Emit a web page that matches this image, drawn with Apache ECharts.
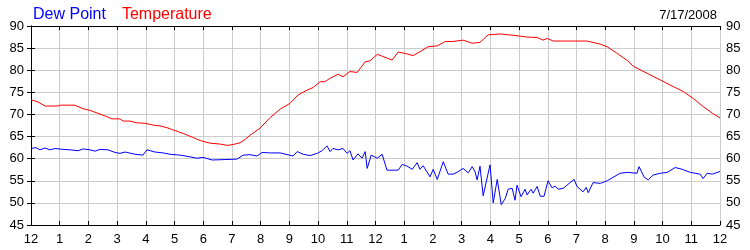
<!DOCTYPE html>
<html>
<head>
<meta charset="utf-8">
<script src="https://cdn.jsdelivr.net/npm/echarts@6/dist/echarts.min.js"></script>
<style>html,body{margin:0;padding:0;background:#fff;}#c{width:750px;height:250px;}</style>
</head>
<body>
<div id="c"></div>
<script>
const dateLabel = '7/17/2008';
const seriesNames = ['Dew Point', 'Temperature'];
const yTicks = [45, 50, 55, 60, 65, 70, 75, 80, 85, 90];
const xTickLabels = ['12','1','2','3','4','5','6','7','8','9','10','11','12','1','2','3','4','5','6','7','8','9','10','11','12'];

const tempHours = [0,0.17,0.31,0.49,0.94,1.01,1.53,1.81,2.06,2.40,2.68,2.82,3.10,3.21,3.45,3.69,3.97,4.25,4.49,4.74,4.95,5.30,5.64,5.89,6.24,6.59,6.83,7.04,7.28,7.45,7.63,7.98,8.33,8.68,9.02,9.30,9.62,9.83,10.07,10.24,10.42,10.70,10.87,11.11,11.36,11.64,11.81,12.06,12.26,12.58,12.79,13.03,13.31,13.55,13.83,14.15,14.43,14.70,15.05,15.37,15.64,15.92,16.34,16.79,17.28,17.63,17.84,17.98,18.19,19.37,19.83,20.07,20.42,20.77,20.98,21.46,21.92,22.37,22.72,23.07,23.41,23.75,24];
const tempValues = [73.3,73.0,72.6,71.9,71.9,72.1,72.1,71.3,70.9,70.1,69.4,69.0,69.0,68.5,68.5,68.1,68.0,67.6,67.4,67.0,66.5,65.7,64.8,64.1,63.5,63.3,63.0,63.2,63.6,64.3,65.3,66.9,69.3,71.2,72.5,74.4,75.5,76.1,77.4,77.4,78.2,79.1,78.5,79.7,79.5,81.9,82.1,83.6,83.1,82.3,84.1,83.8,83.3,84.2,85.3,85.5,86.5,86.5,86.8,86.1,86.3,88.0,88.2,87.9,87.5,87.4,86.8,87.2,86.6,86.6,85.9,85.3,83.8,82.2,80.9,79.3,77.8,76.3,75.2,73.6,71.8,70.2,69.2];

const dewHours = [0,0.17,0.31,0.49,0.66,0.84,1.11,1.36,1.64,1.81,2.06,2.23,2.40,2.68,2.93,3.10,3.28,3.62,3.90,4.04,4.32,4.60,4.84,5.19,5.47,5.78,5.99,6.31,6.76,7.18,7.39,7.63,7.87,8.05,8.33,8.68,9.13,9.27,9.48,9.72,9.97,10.14,10.31,10.42,10.52,10.70,10.87,11.01,11.11,11.22,11.39,11.53,11.64,11.71,11.85,12.06,12.23,12.40,12.79,12.93,13.10,13.28,13.45,13.55,13.66,13.90,14.01,14.15,14.36,14.53,14.70,14.84,15.05,15.23,15.37,15.47,15.54,15.64,15.75,15.99,16.10,16.24,16.38,16.52,16.62,16.76,16.86,16.93,17.07,17.21,17.28,17.42,17.49,17.63,17.74,17.87,18.01,18.15,18.26,18.36,18.54,18.78,18.92,19.02,19.23,19.34,19.41,19.58,19.83,20.07,20.52,20.77,21.11,21.18,21.36,21.50,21.67,21.92,22.16,22.44,22.68,22.96,23.31,23.41,23.55,23.73,24];
const dewValues = [62.3,62.5,62.0,62.4,62.0,62.3,62.1,62.0,61.8,62.2,62.0,61.7,62.1,62.0,61.4,61.2,61.5,61.0,60.8,62.0,61.5,61.3,61.0,60.8,60.5,60.1,60.3,59.7,59.8,59.9,60.8,60.9,60.6,61.4,61.3,61.3,60.6,61.6,61.0,60.7,61.2,61.8,62.9,61.6,62.3,62.0,62.3,61.2,61.8,59.7,61.1,60.1,61.6,57.8,60.8,60.1,61.0,57.4,57.4,58.7,58.3,57.6,59.1,57.6,58.4,55.9,57.6,55.3,59.3,56.5,56.5,56.9,57.8,56.8,58.2,57.0,55.2,58.3,51.6,58.6,50.0,55.3,49.6,51.0,53.1,53.3,50.6,54.0,51.4,53.1,51.8,53.1,52.2,53.7,51.5,51.5,55.0,53.4,53.8,53.1,53.3,54.6,55.3,53.7,52.5,53.5,52.3,54.6,54.4,55.0,56.7,56.9,56.7,58.2,55.8,55.2,56.3,56.7,56.9,58.0,57.6,56.9,56.5,55.5,56.7,56.5,57.1];

const zip = (hs, vs) => hs.map((h, i) => [h, vs[i]]);
const FONT = 'Liberation Sans, Arial, sans-serif';

const chart = echarts.init(document.getElementById('c'), null, {renderer: 'canvas'});
const axisLine = {show: true, lineStyle: {color: '#000', width: 1}};
const tick = {show: true, inside: true, length: 4, lineStyle: {color: '#000'}};
const xBase = {
  type: 'value', min: 0, max: 24, interval: 1,
  axisLine: axisLine, axisTick: tick
};
const yBase = {
  type: 'value', min: yTicks[0], max: yTicks[yTicks.length - 1], interval: 5,
  axisLine: axisLine, axisTick: tick
};
chart.setOption({
  animation: false,
  backgroundColor: '#fff',
  title: {
    text: dateLabel, right: 28, top: 4,
    textStyle: {fontFamily: FONT, fontSize: 13, fontWeight: 'normal', color: '#000'}
  },
  legend: {
    left: 23, top: 2, itemWidth: 0, itemHeight: 0, itemGap: 11, icon: 'rect',
    data: [
      {name: seriesNames[0], textStyle: {color: '#0000ff'}},
      {name: seriesNames[1], textStyle: {color: '#ff0000'}}
    ],
    textStyle: {fontFamily: FONT, fontSize: 16},
    selectedMode: false
  },
  grid: {left: 31, right: 30, top: 26, bottom: 25, containLabel: false},
  xAxis: [
    Object.assign({}, xBase, {
      position: 'bottom',
      axisLabel: {
        color: '#000', fontFamily: FONT, fontSize: 13, margin: 8,
        formatter: v => xTickLabels[Math.round(v)]
      },
      splitLine: {show: true, lineStyle: {color: '#cccccc', width: 1}}
    }),
    Object.assign({}, xBase, {
      position: 'top', axisLabel: {show: false}, splitLine: {show: false}
    })
  ],
  yAxis: [
    Object.assign({}, yBase, {
      position: 'left',
      axisLabel: {color: '#000', fontFamily: FONT, fontSize: 13, margin: 7},
      splitLine: {show: true, lineStyle: {color: '#cccccc', width: 1}}
    }),
    Object.assign({}, yBase, {
      position: 'right',
      axisLabel: {color: '#000', fontFamily: FONT, fontSize: 13, margin: 6},
      splitLine: {show: false}
    })
  ],
  series: [
    {
      name: seriesNames[0], type: 'line', showSymbol: false, symbol: 'none',
      data: zip(dewHours, dewValues),
      lineStyle: {color: '#0000ff', width: 1}, itemStyle: {color: '#0000ff'}
    },
    {
      name: seriesNames[1], type: 'line', showSymbol: false, symbol: 'none',
      data: zip(tempHours, tempValues),
      lineStyle: {color: '#ff0000', width: 1}, itemStyle: {color: '#ff0000'}
    }
  ]
});
</script>
</body>
</html>
